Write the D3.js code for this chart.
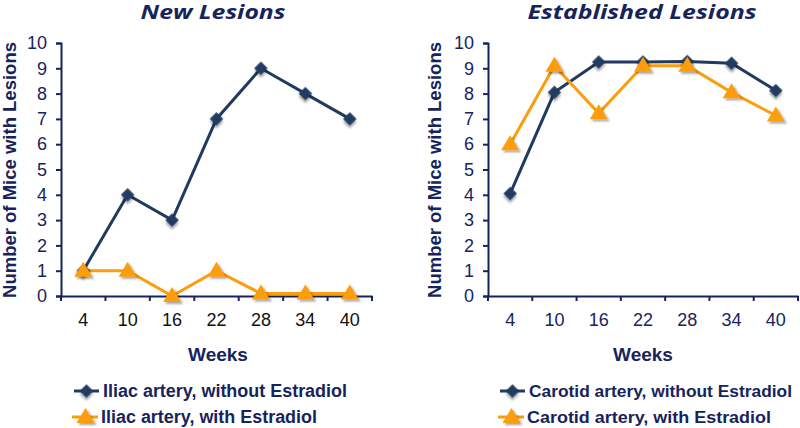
<!DOCTYPE html>
<html><head><meta charset="utf-8">
<script src="https://cdn.jsdelivr.net/npm/d3@7"></script>
<style>body{margin:0;background:#fff}svg{display:block}</style>
</head><body>
<script>
const weeks = ["4","10","16","22","28","34","40"];
const iliacWithout = [1,4,3,7,9,8,7];
const iliacWith = [1,1,0,1,0.1,0.1,0.1];
const carotidWithout = [4.05,8.05,9.25,9.25,9.27,9.2,8.12];
const carotidWith = [6.0,9.1,7.22,9.1,9.1,8.05,7.13];
const yTicks = [0,1,2,3,4,5,6,7,8,9,10];
const titles = ["New Lesions","Established Lesions"];
const legendLabels = [["Iliac artery, without Estradiol","Iliac artery, with Estradiol"],["Carotid artery, without Estradiol","Carotid artery, with Estradiol"]];

const navy = "#17245c", dark = "#203a60", orange = "#fb9d0c";
const W = 800, H = 428;
const svg = d3.select("body").append("svg").attr("width", W).attr("height", H);
const defs = svg.append("defs");
const f = defs.append("filter").attr("id","sh").attr("x","-50%").attr("y","-50%").attr("width","200%").attr("height","200%");
f.append("feDropShadow").attr("dx",2).attr("dy",2).attr("stdDeviation",1.3).attr("flood-color","#000").attr("flood-opacity",0.35);

const panels = [
  {x0:61, x1:372, series:[iliacWithout, iliacWith], tickCol:"#111", ytx:16, wx:218, tx:213, tw:145, lw:[244,216], lf:18},
  {x0:488, x1:798, series:[carotidWithout, carotidWith], tickCol:navy, ytx:441, wx:643, tx:642, tw:229, lw:[263,244], lf:16.5}
];
const y = d3.scaleLinear().domain([0,10]).range([296,43]);

function marker(g, type, cx, cy, col){
  if(type===0){
    g.append("path").attr("d", d3.symbol(d3.symbolSquare, 90)())
     .attr("transform",`translate(${cx},${cy}) rotate(45)`).attr("fill",col).attr("filter","url(#sh)");
  } else {
    g.append("path").attr("d","M0,-9L9,6L-9,6Z").attr("transform",`translate(${cx},${cy})`).attr("fill",col).attr("filter","url(#sh)");
  }
}

panels.forEach((p,i)=>{
  const x = d3.scaleBand().domain(weeks).range([p.x0,p.x1]).padding(0);
  const g = svg.append("g");
  // title
  g.append("text").attr("x",p.tx).attr("y",19).attr("text-anchor","middle")
   .attr("font-family","Open Sans").attr("font-weight","bold").attr("font-style","italic")
   .attr("font-size",19).attr("textLength",p.tw).attr("lengthAdjust","spacingAndGlyphs").attr("fill",navy).text(titles[i]);
  // y axis
  const ya = g.append("g").attr("transform",`translate(${p.x0},0)`)
    .call(d3.axisLeft(y).tickValues(yTicks).tickSize(5).tickPadding(9).tickFormat(d3.format("d")));
  ya.select(".domain").attr("stroke",navy).attr("stroke-width",2);
  ya.selectAll(".tick line").attr("stroke",navy).attr("stroke-width",2);
  ya.selectAll(".tick text").attr("font-family","Liberation Sans").attr("font-size",18).attr("fill",navy);
  // x axis
  const xa = g.append("g").attr("transform",`translate(0,${y(0)})`)
    .call(d3.axisBottom(x).tickSize(0).tickPadding(17));
  xa.select(".domain").attr("stroke",navy).attr("stroke-width",2);
  xa.selectAll(".tick text").attr("font-family","Liberation Sans").attr("font-size",18).attr("fill",p.tickCol);
  const bounds = weeks.map(w=>x(w)).concat([x(weeks[weeks.length-1])+x.bandwidth()]);
  xa.selectAll("line.b").data(bounds).enter().append("line").attr("class","b")
    .attr("x1",d=>d).attr("x2",d=>d).attr("y1",0).attr("y2",5).attr("stroke",navy).attr("stroke-width",2);
  // axis titles
  g.append("text").attr("transform",`translate(${p.ytx},170) rotate(-90)`).attr("text-anchor","middle")
   .attr("font-family","Liberation Sans").attr("font-weight","bold").attr("font-size",18.5).attr("fill",navy)
   .text("Number of Mice with Lesions");
  g.append("text").attr("x",p.wx).attr("y",361).attr("text-anchor","middle")
   .attr("font-family","Liberation Sans").attr("font-weight","bold").attr("font-size",19).attr("fill",navy).text("Weeks");
  // series
  const cols = [dark, orange];
  p.series.forEach((s,k)=>{
    const line = d3.line().x((d,j)=>x(weeks[j])+x.bandwidth()/2).y(d=>y(d));
    g.append("path").attr("d",line(s)).attr("fill","none").attr("stroke",cols[k]).attr("stroke-width",3);
  });
  p.series.forEach((s,k)=>{
    s.forEach((v,j)=>marker(g,k,x(weeks[j])+x.bandwidth()/2,y(v),cols[k]));
  });
  // legend
  const lx = i===0? 74 : 500;
  legendLabels[i].forEach((lab,k)=>{
    const ly = 391 + k*26;
    const lg = g.append("g");
    lg.append("line").attr("x1",lx-(k?2:0)).attr("x2",lx+25-(k?1:0)).attr("y1",ly).attr("y2",ly).attr("stroke",cols[k]).attr("stroke-width",3);
    marker(lg,k,lx+12.5-(k?1:0),ly,cols[k]);
    lg.append("text").attr("x",lx+29-(k?2:0)).attr("y",ly+6).attr("font-family","Liberation Sans").attr("font-weight","bold")
      .attr("font-size",p.lf).attr("textLength",p.lw[k]).attr("lengthAdjust","spacingAndGlyphs").attr("fill",navy).text(lab);
  });
});
</script>
</body></html>
